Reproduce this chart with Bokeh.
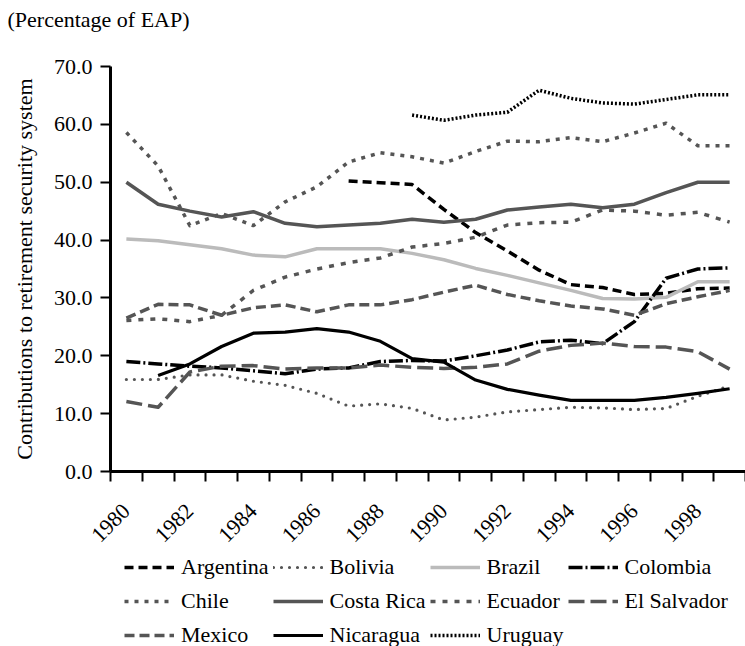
import math
import numpy as np
from bokeh.plotting import figure
from bokeh.layouts import column
from bokeh.models import Range1d, FixedTicker, Legend, LegendItem, NumeralTickFormatter, Label
from bokeh.embed import file_html
from bokeh.resources import INLINE

nan = float("nan")

# ---------------- data ----------------
years = list(range(1980, 2000))
argentina = [nan, nan, nan, nan, nan, nan, nan, 50.2, 49.9, 49.6, 45.3, 41.3, 38.1, 34.8, 32.3, 31.8, 30.6, 30.8, 31.6, 31.7]
bolivia = [15.9, 15.9, 16.7, 16.7, 15.6, 14.9, 13.5, 11.3, 11.7, 10.9, 8.9, 9.4, 10.3, 10.7, 11.1, 11.0, 10.7, 10.9, 13.0, 14.8]
brazil = [40.2, 39.9, 39.2, 38.5, 37.4, 37.1, 38.5, 38.5, 38.5, 37.7, 36.6, 35.1, 33.9, 32.6, 31.3, 29.9, 29.8, 30.1, 32.8, 32.8]
colombia = [19.0, 18.6, 18.2, 17.9, 17.4, 16.9, 17.7, 17.9, 19.0, 19.2, 19.1, 20.0, 21.0, 22.4, 22.7, 22.1, 25.9, 33.4, 35.0, 35.2]
chile = [58.6, 52.8, 42.5, 44.6, 42.5, 46.6, 49.2, 53.5, 55.1, 54.4, 53.3, 55.3, 57.1, 57.0, 57.7, 57.0, 58.5, 60.2, 56.3, 56.3]
costa_rica = [50.0, 46.2, 45.0, 44.0, 44.9, 42.9, 42.3, 42.6, 42.9, 43.6, 43.1, 43.6, 45.2, 45.7, 46.2, 45.6, 46.2, 48.2, 50.0, 50.0]
ecuador = [26.1, 26.4, 25.9, 27.0, 31.3, 33.6, 35.0, 36.1, 36.9, 38.8, 39.4, 40.5, 42.6, 43.0, 43.1, 45.2, 45.0, 44.3, 44.8, 43.1]
el_salvador = [12.1, 11.1, 17.2, 18.2, 18.3, 17.7, 17.9, 17.9, 18.4, 18.0, 17.8, 18.0, 18.6, 20.8, 21.8, 22.2, 21.6, 21.5, 20.7, 17.7]
mexico = [26.5, 28.9, 28.8, 27.0, 28.3, 28.8, 27.6, 28.8, 28.8, 29.7, 31.0, 32.2, 30.6, 29.5, 28.6, 28.1, 27.0, 29.0, 30.2, 31.3]
nicaragua = [nan, 16.6, 18.6, 21.6, 23.9, 24.1, 24.7, 24.1, 22.5, 19.5, 18.9, 15.8, 14.2, 13.2, 12.3, 12.3, 12.3, 12.8, 13.5, 14.3]
uruguay = [nan, nan, nan, nan, nan, nan, nan, nan, nan, 61.6, 60.7, 61.6, 62.1, 65.9, 64.5, 63.7, 63.5, 64.3, 65.1, 65.1]

series_names = ["Argentina", "Bolivia", "Brazil", "Colombia", "Chile", "Costa Rica",
                "Ecuador", "El Salvador", "Mexico", "Nicaragua", "Uruguay"]
series_values = [argentina, bolivia, brazil, colombia, chile, costa_rica,
                 ecuador, el_salvador, mexico, nicaragua, uruguay]

x_label_years = [1980, 1982, 1984, 1986, 1988, 1990, 1992, 1994, 1996, 1998]
y_ticks = [0, 10, 20, 30, 40, 50, 60, 70]
title_text = "(Percentage of EAP)"
y_title = "Contributions to retirement security system"

# ---------------- styles ----------------
styles = {
    "Argentina":   dict(color="#000000", dash="9 5", width=3.5, cap="butt"),
    "Bolivia":     dict(color="#555555", dash="0 8", width=3.2, cap="round"),
    "Brazil":      dict(color="#bbbbbb", dash="solid", width=3.5, cap="butt"),
    "Colombia":    dict(color="#000000", dash="14 3 2 3", width=3.5, cap="butt"),
    "Chile":       dict(color="#555555", dash="4 6", width=3.5, cap="butt"),
    "Costa Rica":  dict(color="#555555", dash="solid", width=3.5, cap="butt"),
    "Ecuador":     dict(color="#555555", dash="5 7", width=3.5, cap="butt"),
    "El Salvador": dict(color="#555555", dash="16 6", width=3.5, cap="butt"),
    "Mexico":      dict(color="#555555", dash="10 5", width=3.5, cap="butt"),
    "Nicaragua":   dict(color="#000000", dash="solid", width=3.2, cap="butt"),
    "Uruguay":     dict(color="#000000", dash="2 2", width=3.5, cap="butt"),
}

FONT = "Liberation Serif, DejaVu Serif, serif"
FS = "22px"
W = 745
H0, H1, H2 = 44, 508, 94
L, T, B = 110, 22, 81


def no_align(fig):
    if hasattr(fig, "frame_align"):
        fig.frame_align = False


# ---------------- title strip ----------------
t = figure(width=W, height=H0, output_backend="svg", toolbar_location=None,
           x_axis_type=None, y_axis_type=None, x_range=Range1d(0, 1), y_range=Range1d(0, 1),
           min_border=0)
t.outline_line_color = None
no_align(t)
t.add_layout(Label(x=7, y=H0 - 6, x_units="screen", y_units="screen", text=title_text,
                   text_baseline="top", text_align="left", text_font=FONT,
                   text_font_size=FS, text_color="black"))

# ---------------- main chart ----------------
p = figure(width=W, height=H1, output_backend="svg", toolbar_location=None,
           x_range=Range1d(years[0] - 0.5, years[-1] + 0.5), y_range=Range1d(0, 70),
           min_border_left=L, min_border_top=T, min_border_bottom=B, min_border_right=0)
p.outline_line_color = None
p.xgrid.visible = False
p.ygrid.visible = False
p.background_fill_color = "white"

x = np.array(years, dtype=float)
for name, vals in zip(series_names, series_values):
    s = styles[name]
    p.line(x, np.array(vals, dtype=float), line_color=s["color"], line_width=s["width"],
           line_dash=s["dash"], line_cap=s["cap"], line_join="round")

# x axis
xa = p.xaxis[0]
xa.ticker = FixedTicker(ticks=x_label_years, minor_ticks=[y - 0.5 for y in years] + [years[-1] + 0.5])
xa.formatter = NumeralTickFormatter(format="0")
xa.major_label_orientation = math.pi / 4
xa.major_tick_out = 10
xa.major_tick_in = 0
xa.major_tick_line_color = None
xa.minor_tick_out = 10
xa.minor_tick_in = 0
xa.minor_tick_line_color = "black"
xa.minor_tick_line_width = 2
xa.axis_line_width = 3
xa.axis_line_color = "black"
xa.major_label_text_font = FONT
xa.major_label_text_font_size = FS
xa.major_label_text_color = "black"
xa.major_label_text_align = "right"
xa.major_label_text_baseline = "bottom"
xa.major_label_standoff = 26

# y axis
ya = p.yaxis[0]
ya.ticker = FixedTicker(ticks=y_ticks)
ya.formatter = NumeralTickFormatter(format="0.0")
ya.major_tick_out = 10
ya.major_tick_in = 0
ya.major_tick_line_width = 2
ya.minor_tick_line_color = None
ya.axis_line_width = 3
ya.axis_line_color = "black"
ya.major_label_text_font = FONT
ya.major_label_text_font_size = FS
ya.major_label_text_color = "black"
ya.major_label_standoff = 8
ya.axis_label = y_title
ya.axis_label_text_font = FONT
ya.axis_label_text_font_size = FS
ya.axis_label_text_font_style = "normal"
ya.axis_label_text_color = "black"
ya.axis_label_standoff = 14

# ---------------- legend strip (same series and styles; its frame hides the lines) ----------------
q = figure(width=W, height=H2, output_backend="svg", toolbar_location=None,
           x_axis_type=None, y_axis_type=None, x_range=Range1d(0, 1), y_range=Range1d(0, 1),
           min_border=0)
q.outline_line_color = None
q.background_fill_color = "white"
no_align(q)
items = []
for name, vals in zip(series_names, series_values):
    s = styles[name]
    r = q.line(x, np.array(vals, dtype=float), line_color=s["color"], line_width=s["width"],
               line_dash=s["dash"], line_cap=s["cap"], line_join="round")
    items.append(LegendItem(label=name, renderers=[r]))

legend = Legend(items=items, location=(124, -4), orientation="horizontal", ncols=4,
                label_text_font=FONT, label_text_font_size=FS, label_text_color="black",
                glyph_width=50, glyph_height=30, label_height=30, spacing=4,
                padding=0, margin=0, border_line_color=None, background_fill_alpha=0,
                label_standoff=7)
q.add_layout(legend)

layout = column(t, p, q, spacing=0)
open("out.html", "w").write(file_html(layout, INLINE))
